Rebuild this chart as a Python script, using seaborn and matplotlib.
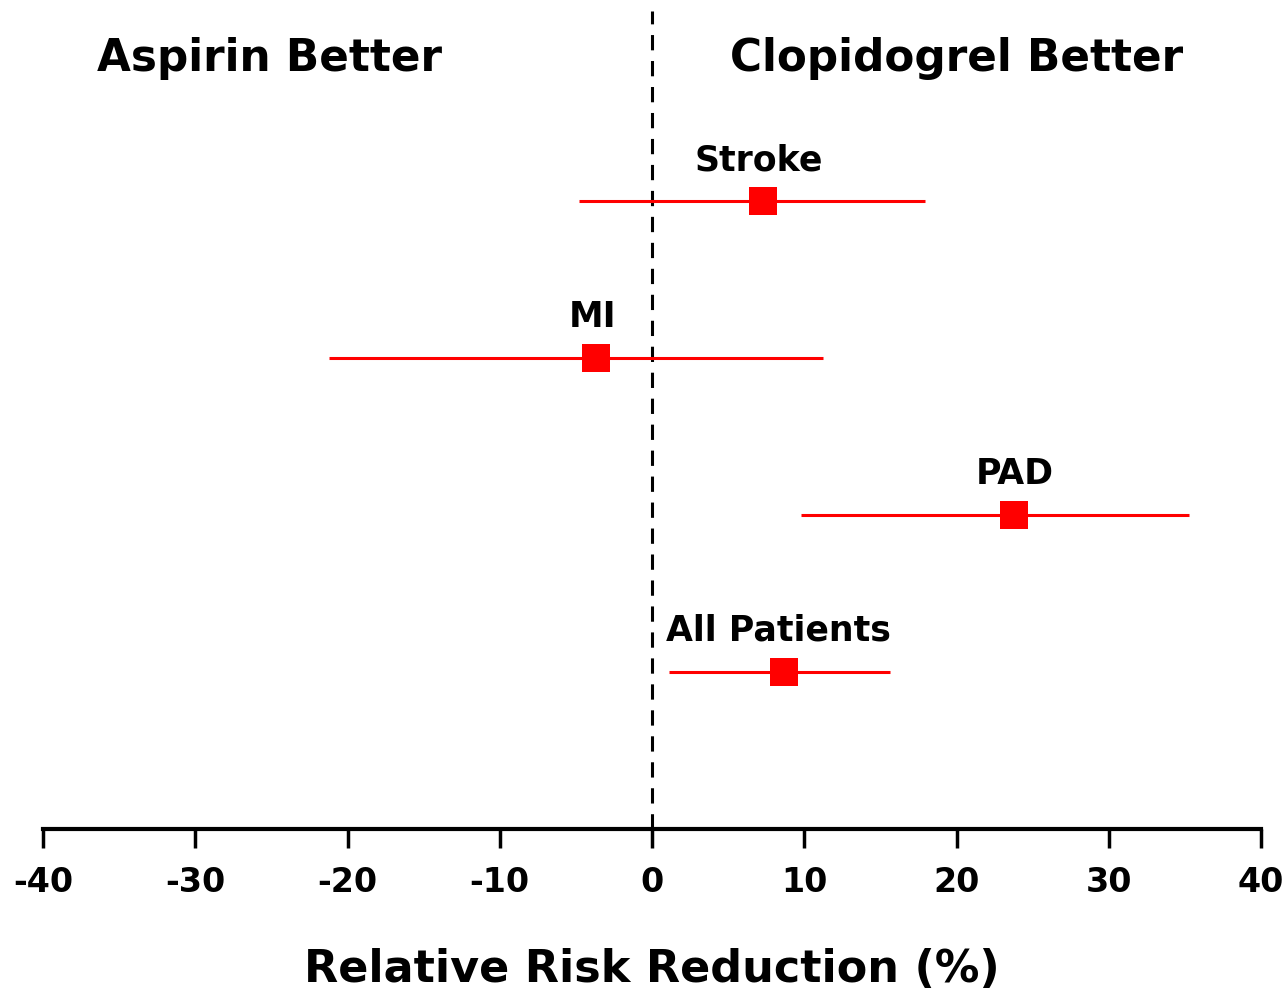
import matplotlib
matplotlib.use('Agg')
import matplotlib.pyplot as plt
import seaborn as sns
import pandas as pd

groups = ['Stroke', 'MI', 'PAD', 'All Patients']
rrr = [7.3, -3.7, 23.8, 8.7]
ci_low = [-4.8, -21.2, 9.8, 1.1]
ci_high = [17.9, 11.2, 35.3, 15.6]
rows = [4, 3, 2, 1]
label_x = [7.0, -3.9, 23.8, 8.3]
xticks = [-40, -30, -20, -10, 0, 10, 20, 30, 40]

df = pd.DataFrame({'group': groups, 'rrr': rrr, 'lo': ci_low, 'hi': ci_high, 'row': rows})

sns.set_style('white')
plt.rcParams['font.family'] = ['DejaVu Sans']
plt.rcParams['font.weight'] = 'bold'
plt.rcParams['text.color'] = 'black'
plt.rcParams['axes.labelcolor'] = 'black'
plt.rcParams['xtick.color'] = 'black'

fig = plt.figure(figsize=(12.86, 9.95), dpi=100)
ax = fig.add_axes([43 / 1286, 165 / 995, 1218 / 1286, 830 / 995])

ax.hlines(df['row'], df['lo'], df['hi'], color='#ff0000', linewidth=2.2, zorder=2)
sns.scatterplot(data=df, x='rrr', y='row', marker='s', s=420, color='#ff0000',
                edgecolor='#ff0000', linewidth=0, ax=ax, zorder=3, legend=False)

for lx, r, g in zip(label_x, rows, groups):
    ax.text(lx, r + 0.27, g, ha='center', va='center', fontsize=25, fontweight='bold')

ax.axvline(0, ymin=0, ymax=0.985, color='black', linewidth=2.2, dashes=(5, 3.5), zorder=1)

ax.text(-25.1, 4.92, 'Aspirin Better', ha='center', va='center', fontsize=31.5, fontweight='bold')
ax.text(20.0, 4.92, 'Clopidogrel Better', ha='center', va='center', fontsize=31.5, fontweight='bold')

ax.set_xlim(-40, 40)
ax.set_ylim(0, 5.29)
ax.set_xticks(xticks)
ax.set_xticklabels([str(t) for t in xticks], fontsize=24, fontweight='bold')
ax.set_yticks([])
ax.tick_params(axis='x', bottom=True, direction='out', length=14, width=2.5, pad=12, color='black')
ax.set_xlabel('Relative Risk Reduction (%)', fontsize=32, fontweight='bold', labelpad=35)
ax.set_ylabel('')

for s in ['top', 'right', 'left']:
    ax.spines[s].set_visible(False)
ax.spines['bottom'].set_linewidth(3)
ax.spines['bottom'].set_color('black')
ax.patch.set_alpha(0)

fig.savefig('out.png', dpi=100)
plt.close()
